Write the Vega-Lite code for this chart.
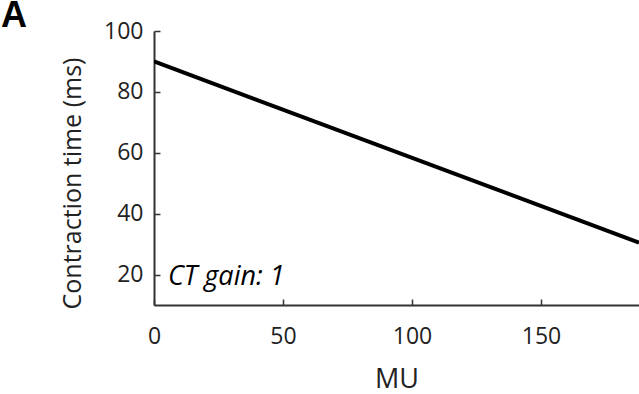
{
  "$schema": "https://vega.github.io/schema/vega-lite/v6.json",
  "width": 485,
  "height": 274,
  "autosize": "none",
  "padding": {"left": 154, "top": 31, "right": 0, "bottom": 89},
  "background": "white",
  "config": {"view": {"stroke": null}, "font": "Open Sans"},
  "title": {"text": "A", "anchor": "start", "frame": "group", "dx": -153, "dy": 47, "offset": 4, "fontSize": 36, "fontWeight": "bold", "font": "Liberation Sans", "color": "#000", "baseline": "alphabetic"},
  "layer": [
    {
      "data": {"values": [{"MU": 0, "CT": 90}, {"MU": 188, "CT": 30.5}]},
      "mark": {"type": "line", "color": "#000", "strokeWidth": 4, "clip": true},
      "encoding": {
        "x": {"field": "MU", "type": "quantitative", "scale": {"domain": [0, 188], "nice": false},
          "axis": {"values": [0, 50, 100, 150], "title": "MU", "titleFontSize": 27, "titleFontWeight": "normal", "titleColor": "#222", "titlePadding": 18,
            "grid": false, "domainColor": "#333", "domainWidth": 2, "tickColor": "#333", "tickWidth": 1.5, "tickSize": -6, "labelPadding": 26, "labelFontSize": 23, "labelColor": "#222", "labelFlush": false}},
        "y": {"field": "CT", "type": "quantitative", "scale": {"domain": [10, 100], "nice": false},
          "axis": {"values": [20, 40, 60, 80, 100], "title": "Contraction time (ms)", "titleFontSize": 25, "titleFontWeight": "normal", "titleColor": "#222", "titleX": -82, "titleY": 152, "titleAlign": "center", "titleBaseline": "middle",
            "grid": false, "domainColor": "#333", "domainWidth": 2, "tickColor": "#333", "tickWidth": 1.5, "tickSize": -6, "labelPadding": 17, "labelFontSize": 23, "labelColor": "#222"}}
      }
    },
    {
      "data": {"values": [{"MU": 0, "CT": 20, "label": "CT gain: 1"}]},
      "mark": {"type": "text", "align": "left", "baseline": "middle", "dx": 14, "dy": 2, "fontSize": 27, "fontStyle": "italic", "color": "#000"},
      "encoding": {
        "x": {"field": "MU", "type": "quantitative"},
        "y": {"field": "CT", "type": "quantitative"},
        "text": {"field": "label"}
      }
    }
  ]
}
